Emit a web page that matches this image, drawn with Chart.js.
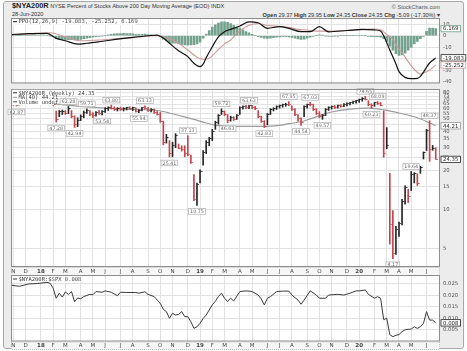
<!DOCTYPE html>
<html>
<head>
<meta charset="utf-8">
<script src="https://cdn.jsdelivr.net/npm/chart.js@4.4.1/dist/chart.umd.min.js"></script>
<style>
  body { margin: 0; width: 467px; height: 351px; overflow: hidden; background: #fff; font-family: "Liberation Sans", Arial, sans-serif; }
  #frame { position: absolute; left: 3px; top: 1px; width: 461px; height: 348px; box-sizing: border-box; background: #ececec; border: 1px solid #a9a9a9; border-radius: 3px; }
  canvas { position: absolute; left: 0; }
  .hdr { position: absolute; white-space: nowrap; color: #333; font-size: 5.6px; line-height: 7px; }
</style>
</head>
<body>
<div id="frame"></div>
<div class="hdr" style="left:12px; top:2px;"><b style="font-size:7.4px; color:#222">$NYA200R</b> NYSE Percent of Stocks Above 200 Day Moving Average (EOD) INDX</div>
<div class="hdr" style="left:12px; top:11px;">28-Jun-2020</div>
<div class="hdr" style="right:27px; top:4px; color:#555">© StockCharts.com</div>
<div class="hdr" style="right:27px; top:11.5px;"><b>Open</b> 29.37 <b>High</b> 29.95 <b>Low</b> 24.35 <b>Close</b> 24.35 <b>Chg</b> -5.09 (-17.30%) ▾</div>

<canvas id="ppoChart" width="467" height="67" style="top:17px"></canvas>
<canvas id="mainChart" width="467" height="192" style="top:84px"></canvas>
<canvas id="ratioChart" width="467" height="76" style="top:274px"></canvas>

<script>
// weekly bars, week 0 = 27-Oct-2017 ... week 139 = 26-Jun-2020
const weekHigh = [
  68, 66, 65.5, 68, 70, 70.5, 71, 72, 73, 72,
  75, 76.5, 76.5, 74, 71, 57.5, 58, 58.5, 58, 62.28,
  58, 52.8, 51, 53.7, 57.5, 59.71, 58, 56, 57, 58,
  58, 61, 62, 63.8, 62, 61, 61.5, 61, 61.5, 62,
  61.5, 61, 59, 61.5, 63.13, 61, 60, 59.5, 57, 56,
  48, 38, 34, 33, 38.5, 32, 31, 31, 37.13, 26.3,
  18.6, 16, 20.2, 28.5, 34, 36, 41.5, 48, 54, 59.72,
  57.5, 54, 52.4, 52, 54, 62, 63, 63.5, 63.63, 63.5,
  62.5, 58, 52.5, 48.5, 55, 60, 61, 63, 64, 65,
  66, 67.95, 63, 60, 54, 51, 63, 65, 67.03, 65,
  60, 57, 54, 60, 62, 63, 63.5, 64, 64.5, 65.5,
  66.5, 67, 68.5, 69.5, 71, 73, 74.65, 69, 65.5, 67,
  68.09, 67, 57.5, 42.8, 19, 9.8, 7.4, 8, 12, 15.2,
  14.3, 19.64, 19.2, 18.8, 21.5, 27.8, 41.5, 48.37, 31.2, 29.95
];
const weekLow = [
  64.5, 63.5, 62.87, 64, 66.5, 67, 67, 69, 69.5, 68.5,
  71, 72.5, 72, 70, 63, 47.28, 52, 54, 54, 55,
  51, 42.94, 43.5, 48.5, 51, 55, 53, 51, 52.5, 54,
  53.54, 56, 58, 59.5, 58, 57.5, 58, 57.5, 58.5, 59,
  58, 56.5, 55.94, 57.5, 59.5, 57, 56.5, 55, 53.5, 47,
  31.5, 32.5, 25.41, 25.5, 30, 29.4, 28.2, 25.5, 26, 22.7,
  11.7, 10.75, 16, 22, 27, 31, 34, 41.5, 45.5, 54,
  53, 46.63, 48, 48.5, 49.5, 54, 59.5, 60, 60, 60,
  59, 51, 47, 42.83, 45, 54, 57.5, 59, 60.5, 61.5,
  62.5, 63, 58, 53, 48, 44.54, 52, 60.5, 63, 58,
  54, 51, 49.57, 53, 58, 59.5, 60, 60.5, 61.5, 62,
  63, 64, 65.5, 66, 67, 68.5, 70, 63, 60.23, 62.5,
  64.5, 63, 25.3, 29.4, 5.4, 4.17, 4.5, 6.2, 7.6, 11,
  11.3, 14, 16, 15.3, 19, 24.5, 28.5, 23.5, 28.6, 24.35
];
const weekClose = [
  65, 64, 63.5, 67.5, 69, 67.5, 70, 71, 70, 71.5,
  74, 75, 73, 72, 64, 49.5, 57, 57.5, 55, 60,
  52, 45, 49, 52.5, 56, 58.5, 54, 53, 56, 55,
  57, 60, 61.5, 60.5, 59, 60.5, 59.5, 60, 61, 60,
  61, 57, 58.5, 61, 60, 58, 59, 56, 54, 48,
  33, 36, 27, 31, 37, 29.8, 28.8, 27, 26.5, 23,
  12, 15.5, 19.8, 27.5, 33, 35, 40, 47, 53, 57,
  54, 49, 51, 49.5, 53.5, 61, 62.5, 61, 63, 61.5,
  60, 52, 48, 44, 54, 59, 60.5, 62.5, 63.5, 64.5,
  65, 64, 59, 54, 50, 47, 62, 64.5, 64, 59,
  55, 52, 53, 59, 61.5, 62, 61.5, 63.5, 62.5, 65,
  66, 66.5, 68, 69, 70.5, 72, 71, 64, 63, 66.5,
  65.5, 63.5, 27, 31, 7.6, 4.6, 7, 7.8, 11.5, 14.8,
  12.5, 18.5, 18.8, 15.8, 21, 27.5, 41, 29, 29.44, 24.35
];
const highMarks = [19, 25, 33, 44, 58, 69, 78, 91, 98, 116, 120, 131, 137];
const lowMarks = [2, 15, 21, 30, 42, 52, 61, 71, 83, 95, 102, 118, 125];

// MA(40), read at a few weeks
const maWeeks = [13, 18, 24, 31, 38, 44, 48, 52, 56, 60, 64, 68, 74, 83, 88, 91, 95, 98, 101, 105, 111, 117, 122, 127, 133, 138, 139];
const maValues = [66, 64, 62, 60.6, 59.5, 58.8, 58, 55.5, 52.5, 49.5, 46.5, 44.3, 43.7, 43.7, 44.5, 45.9, 47.5, 50, 53, 56.5, 59.5, 60.6, 58.7, 55.5, 51, 45.4, 44.21];

// PPO(12,26,9)
const ppoWeeks = [0, 6, 12, 15, 18, 22, 25, 29, 35, 40, 45, 48, 50, 52, 55, 58, 60, 62, 63, 64, 66, 68, 70, 72, 75, 78, 81, 84, 88, 91, 95, 98, 101, 104, 110, 115, 119, 121, 122, 124, 126, 127, 129, 131, 133, 134, 135, 136, 137, 138, 139];
const ppoValues = [1.0, 1.8, 2.0, -2.3, -4.3, -7.2, -6.5, -5.2, -3, -1.4, 0, 0.6, -2, -6.5, -13, -18, -23.8, -26.7, -24.5, -19, -9.5, -1, 3.5, 5.5, 8.4, 12, 11.2, 6.4, 7.8, 6.4, 3.5, 3.5, 7.8, 3.4, 4.5, 5.5, 5.0, 4.0, 0, -12.3, -24.4, -31, -35.9, -37, -36.8, -35, -31.5, -27.2, -23.5, -21.2, -19.083];
const signalWeeks = [0, 6, 13, 18, 23, 29, 35, 40, 48, 52, 55, 58, 61, 63, 65, 67, 70, 72, 74, 76, 78, 81, 84, 88, 91, 94, 97, 100, 104, 110, 115, 119, 121, 123, 125, 126, 128, 131, 133, 134, 136, 137, 138, 139];
const signalValues = [1.0, 1.5, 2.6, -1, -4.3, -3.7, -2.5, -1.6, 0, -2.5, -6.5, -12.3, -18.5, -20.3, -19.5, -14.5, -7, -3.7, 2, 6, 9, 10.6, 8.8, 8, 7.2, 5.5, 5, 4, 4, 4.5, 5.3, 5.8, 5.2, 1, -3, -8, -14.5, -26, -31.5, -33, -31, -29.5, -27.5, -25.252];
const histValues = [
  0.3, 0.4, 0.2, 0.3, 0.4, 0.5, 0.4, 0.5, 0.6, 0.4,
  0.5, 0.6, 0.4, -0.3, -1, -2.5, -3.2, -3.5, -3.7, -3.5,
  -3.3, -3.6, -3.8, -3.2, -2.6, -2, -1.6, -1.2, -0.9, -0.6,
  -0.4, 0.3, 0.8, 1.3, 1.6, 1.8, 1.9, 2, 1.9, 1.8,
  1.6, 1.3, 1.2, 1.3, 1.4, 1.1, 0.8, 0.4, 0, -1,
  -3, -4.5, -6, -6.5, -6.5, -7, -7.5, -8, -8.2, -8,
  -7.6, -7, -5.5, -2, 1.5, 4.5, 7.5, 9.5, 11, 12,
  12, 11.5, 10.5, 9, 7.5, 6.5, 5, 3.5, 2.5, 1.2,
  0.3, -0.8, -1.5, -2.2, -2.4, -2, -1.6, -1.3, -1, -0.9,
  -0.8, -1, -1.5, -2.2, -2.8, -3.2, -3, -2.2, -1.2, -0.5,
  0.3, 0.8, 0.5, -0.3, -0.6, -0.5, -0.4, -0.3, 0.2, 0.3,
  0.3, 0.2, 0.3, 0.4, 0.3, 0.4, 0.2, -0.5, -0.8, -0.9,
  -0.7, -1.2, -2.5, -5, -9, -12.5, -15.5, -17, -16.5, -15,
  -12.5, -10, -7, -5, -2.5, -0.5, 3.8, 6.5, 6.5, 6.169
];

// $NYA200R:$SPX ratio
const ratioWeeks = [0, 3, 6, 9, 12, 13, 14, 15, 16, 17, 18, 19, 20, 21, 22, 23, 24, 26, 27, 28, 30, 31, 33, 35, 36, 38, 41, 42, 44, 45, 47, 49, 50, 51, 52, 53, 54, 55, 56, 57, 58, 59, 60, 61, 62, 63, 64, 65, 66, 67, 68, 69, 70, 71, 72, 73, 75, 77, 78, 79, 81, 82, 83, 84, 85, 87, 89, 91, 92, 94, 95, 96, 98, 100, 101, 103, 104, 107, 109, 111, 113, 114, 116, 117, 119, 120, 121, 122, 123, 124, 125, 126, 127, 128, 129, 130, 131, 132, 133, 134, 135, 136, 137, 138, 139];
const ratioValues = [0.0245, 0.0240, 0.0250, 0.0252, 0.0257, 0.0253, 0.0232, 0.0188, 0.0210, 0.0193, 0.0215, 0.0205, 0.0217, 0.0173, 0.0189, 0.0186, 0.0195, 0.0205, 0.0203, 0.0217, 0.0214, 0.0220, 0.0214, 0.0199, 0.0214, 0.0213, 0.0213, 0.0210, 0.0216, 0.0205, 0.0195, 0.0166, 0.0140, 0.0130, 0.0101, 0.0123, 0.0115, 0.0118, 0.0130, 0.0108, 0.0108, 0.0086, 0.0057, 0.0064, 0.0079, 0.0100, 0.0115, 0.0137, 0.0159, 0.0175, 0.0195, 0.0210, 0.0188, 0.0173, 0.0188, 0.0176, 0.0217, 0.0220, 0.0219, 0.0217, 0.0202, 0.0185, 0.0159, 0.0188, 0.0195, 0.0217, 0.0219, 0.0219, 0.0202, 0.0180, 0.0162, 0.0180, 0.0220, 0.0202, 0.0188, 0.0188, 0.0202, 0.0205, 0.0202, 0.0210, 0.0220, 0.0220, 0.0224, 0.0205, 0.0188, 0.0195, 0.0188, 0.0095, 0.0101, 0.0030, 0.0021, 0.0027, 0.0030, 0.0043, 0.0051, 0.0053, 0.0054, 0.0064, 0.0057, 0.0064, 0.0079, 0.0130, 0.0093, 0.0093, 0.0081];

// axis ticks
const monthWeeks = [1, 5, 10, 14, 18, 23, 27, 31, 36, 40, 45, 49, 53, 58, 62, 66, 70, 75, 79, 84, 88, 92, 97, 101, 105, 110, 114, 119, 123, 127, 131, 136];
const monthLabels = ['N', 'D', '18', 'F', 'M', 'A', 'M', 'J', 'J', 'A', 'S', 'O', 'N', 'D', '19', 'F', 'M', 'A', 'M', 'J', 'J', 'A', 'S', 'O', 'N', 'D', '20', 'F', 'M', 'A', 'M', 'J'];
const priceTicks = [5, 10, 15, 20, 25, 30, 35, 40, 45, 50, 55, 60, 65, 70, 75, 80];
const ppoTicks = [10, 0, -10, -20, -30, -40];
const ratioTicks = [0.005, 0.010, 0.015, 0.020, 0.025];

const RED = "#c4454a";
const BLACK = "#262626";
const GRID = "#e2e2e2";
const FONT = '"DejaVu Sans", sans-serif';
const MONO = '"DejaVu Sans Mono", monospace';

const weeks = weekClose.map((_, i) => i);
const barColor = weekClose.map((c, i) => (i > 0 && c < weekClose[i - 1] ? RED : BLACK));

function xAxis(showLabels, height) {
  return {
    type: "linear",
    min: 0.23,
    max: 140.4,
    offset: false,
    afterBuildTicks: (s) => { s.ticks = monthWeeks.map((v) => ({ value: v })); },
    afterFit: (s) => { s.height = height; s.paddingLeft = 0; s.paddingRight = 0; },
    grid: { color: GRID, drawTicks: false, offset: false },
    border: { display: false },
    ticks: {
      display: showLabels,
      autoSkip: false,
      maxRotation: 0,
      padding: 1,
      color: "#444",
      font: (c) => ({ family: FONT, size: 5.5, weight: /^\d/.test(monthLabels[c.index] || "") ? "bold" : "normal" }),
      callback: (v, i) => monthLabels[i],
    },
  };
}

function yAxis(extra, tickValues, fmt) {
  return Object.assign({
    position: "right",
    afterBuildTicks: (s) => { s.ticks = tickValues.map((v) => ({ value: v })); },
    afterFit: (s) => { s.width = 27; s.paddingTop = 0; s.paddingBottom = 0; },
    grid: { color: GRID, drawTicks: false },
    border: { display: false },
    ticks: { color: "#555", padding: 3, autoSkip: false, font: { family: FONT, size: 5.3 }, callback: fmt },
  }, extra);
}

// white plot background, panel frame and label strip
const panelPlugin = {
  id: "panel",
  beforeDraw(chart) {
    const { ctx, chartArea: a } = chart;
    ctx.save();
    ctx.fillStyle = "#fff";
    ctx.fillRect(a.left, a.top, a.right - a.left, a.bottom - a.top);
    const xs = chart.scales.x;
    if (xs.options.ticks.display) {
      ctx.fillStyle = "#f6f6f6";
      ctx.fillRect(a.left, a.bottom, a.right - a.left, xs.height);
      ctx.setLineDash([1, 1]);
      ctx.strokeStyle = "#9a9a9a";
      ctx.lineWidth = 0.6;
      ctx.strokeRect(a.left + 0.5, a.bottom + 0.5, a.right - a.left - 1, xs.height - 1);
    }
    ctx.restore();
  },
  afterDraw(chart) {
    const { ctx, chartArea: a } = chart;
    ctx.save();
    ctx.strokeStyle = "#8e8e8e";
    ctx.lineWidth = 1;
    ctx.strokeRect(a.left + 0.5, a.top + 0.5, a.right - a.left - 1, a.bottom - a.top - 1);
    ctx.restore();
  },
};

function valueBox(chart, value, text, border) {
  const { ctx, chartArea: a } = chart;
  const py = chart.scales.y.getPixelForValue(value);
  ctx.save();
  ctx.font = "5.4px " + FONT;
  const w = ctx.measureText(text).width + 4;
  ctx.fillStyle = "#fff";
  ctx.fillRect(a.right + 1, py - 3.2, w, 6.4);
  ctx.strokeStyle = border;
  ctx.lineWidth = 0.8;
  ctx.strokeRect(a.right + 1, py - 3.2, w, 6.4);
  ctx.fillStyle = "#222";
  ctx.textBaseline = "middle";
  ctx.fillText(text, a.right + 3, py + 0.3);
  ctx.restore();
}

function legendLines(chart, lines, boxes) {
  const { ctx, chartArea: a } = chart;
  ctx.save();
  ctx.fillStyle = "#fff";
  boxes.forEach((b) => ctx.fillRect(a.left + 1, a.top + b[0], b[1], b[2]));
  ctx.font = "5.5px " + MONO;
  ctx.textBaseline = "middle";
  lines.forEach((l) => {
    ctx.fillStyle = l.color;
    ctx.fillRect(a.left + 2, a.top + l.y - 0.5, 4, 1);
    ctx.fillStyle = "#444";
    ctx.fillText(l.text, a.left + 7.5, a.top + l.y + 0.3);
  });
  ctx.restore();
}

function tickImage(color) {
  const c = document.createElement("canvas");
  c.width = 5;
  c.height = 1;
  const g = c.getContext("2d");
  g.fillStyle = color;
  g.fillRect(3, 0, 1.5, 1);
  return c;
}
const redTick = tickImage(RED);
const blackTick = tickImage(BLACK);

const baseOptions = {
  responsive: false,
  animation: false,
  devicePixelRatio: 1,
  plugins: { legend: { display: false }, tooltip: { enabled: false } },
};

// PPO panel
new Chart(document.getElementById("ppoChart"), {
  type: "bar",
  data: {
    datasets: [
      {
        type: "line",
        data: ppoWeeks.map((w, k) => ({ x: w, y: ppoValues[k] })),
        borderColor: "#111",
        borderWidth: 1.2,
        pointRadius: 0,
        cubicInterpolationMode: "monotone",
        order: 1,
      },
      {
        type: "line",
        data: signalWeeks.map((w, k) => ({ x: w, y: signalValues[k] })),
        borderColor: "#c99a9a",
        borderWidth: 1.1,
        pointRadius: 0,
        cubicInterpolationMode: "monotone",
        order: 2,
      },
      {
        data: weeks.map((i) => ({ x: i, y: histValues[i] })),
        backgroundColor: "#74a28e",
        barThickness: 2,
        grouped: false,
        order: 3,
      },
    ],
  },
  options: {
    ...baseOptions,
    layout: { padding: { left: 11, right: 0, top: 1, bottom: 0.5 } },
    scales: {
      x: xAxis(false, 0),
      y: yAxis({ min: -41.2, max: 15.3 }, ppoTicks, (v) => String(v)),
    },
  },
  plugins: [
    panelPlugin,
    {
      id: "ppoExtras",
      afterDraw(chart) {
        legendLines(chart, [{ y: 3.7, color: "#111", text: "PPO(12,26,9) -19.083, -25.252, 6.169" }], [[1.2, 124, 5.5]]);
        valueBox(chart, 6.169, "6.169", "#74a28e");
        valueBox(chart, -19.083, "-19.083", "#222");
        valueBox(chart, -25.252, "-25.252", "#c99a9a");
      },
    },
  ],
});

// price panel
new Chart(document.getElementById("mainChart"), {
  type: "bar",
  data: {
    datasets: [
      {
        type: "line",
        data: maWeeks.map((w, k) => ({ x: w, y: maValues[k] })),
        borderColor: "#9b9b9b",
        borderWidth: 1.2,
        pointRadius: 0,
        cubicInterpolationMode: "monotone",
        order: 3,
      },
      {
        data: weeks.map((i) => ({ x: i, y: [weekLow[i], weekHigh[i]] })),
        backgroundColor: barColor,
        barThickness: 1,
        grouped: false,
        order: 2,
      },
      {
        type: "scatter",
        data: weeks.map((i) => ({ x: i, y: weekClose[i] })),
        pointStyle: (c) => (barColor[c.dataIndex] === RED ? redTick : blackTick),
        order: 1,
      },
    ],
  },
  options: {
    ...baseOptions,
    layout: { padding: { left: 11, right: 0, top: 0.5, bottom: 0 } },
    scales: {
      x: xAxis(true, 9),
      y: yAxis({ type: "logarithmic", min: 3.6, max: 85 }, priceTicks, (v) => String(v)),
    },
  },
  plugins: [
    panelPlugin,
    {
      id: "priceExtras",
      afterDatasetsDraw(chart) {
        const { ctx, scales: { x, y } } = chart;
        ctx.save();
        ctx.font = "4.8px " + FONT;
        ctx.textAlign = "center";
        ctx.textBaseline = "middle";
        const box = (px, py, txt) => {
          const w = ctx.measureText(txt).width + 3;
          ctx.fillStyle = "#fff";
          ctx.fillRect(px - w / 2, py - 2.8, w, 5.6);
          ctx.strokeStyle = "#adadad";
          ctx.lineWidth = 0.7;
          ctx.strokeRect(px - w / 2, py - 2.8, w, 5.6);
          ctx.fillStyle = "#666";
          ctx.fillText(txt, px, py + 0.3);
        };
        highMarks.forEach((i) => box(x.getPixelForValue(i), y.getPixelForValue(weekHigh[i]) - 5, weekHigh[i].toFixed(2)));
        lowMarks.forEach((i) => box(x.getPixelForValue(i), y.getPixelForValue(weekLow[i]) + 6, weekLow[i].toFixed(2)));
        ctx.restore();
      },
      afterDraw(chart) {
        legendLines(
          chart,
          [
            { y: 3.8, color: "#333", text: "$NYA200R (Weekly) 24.35" },
            { y: 8.3, color: "#9b9b9b", text: "MA(40) 44.21" },
            { y: 12.8, color: "#456", text: "Volume undef" },
          ],
          [[0.8, 84, 5.6], [6.2, 42, 10]]
        );
        valueBox(chart, maValues[maValues.length - 1], "44.21", "#999");
        valueBox(chart, weekClose[weekClose.length - 1], "24.35", "#222");
      },
    },
  ],
});

// ratio panel
new Chart(document.getElementById("ratioChart"), {
  type: "line",
  data: {
    datasets: [
      {
        data: ratioWeeks.map((w, k) => ({ x: w, y: ratioValues[k] })),
        borderColor: "#3a3a3a",
        borderWidth: 1,
        pointRadius: 0,
        tension: 0,
      },
    ],
  },
  options: {
    ...baseOptions,
    layout: { padding: { left: 11, right: 0, top: 1, bottom: 0 } },
    scales: {
      x: xAxis(true, 8.5),
      y: yAxis({ min: 0, max: 0.0289 }, ratioTicks, (v) => v.toFixed(3)),
    },
  },
  plugins: [
    panelPlugin,
    {
      id: "ratioExtras",
      afterDraw(chart) {
        legendLines(chart, [{ y: 4, color: "#3a3a3a", text: "$NYA200R:$SPX 0.008" }], [[1.3, 70, 5.5]]);
        valueBox(chart, 0.0081, "0.008", "#222");
      },
    },
  ],
});
</script>
</body>
</html>
